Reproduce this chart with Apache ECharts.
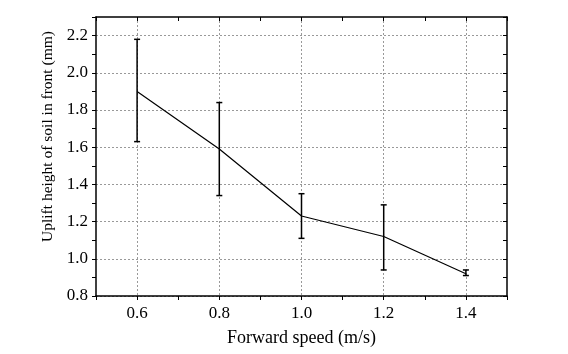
<!DOCTYPE html>
<html>
<head>
<meta charset="utf-8">
<script src="https://cdn.jsdelivr.net/npm/echarts@6/dist/echarts.min.js"></script>
<style>
  html, body { margin: 0; padding: 0; background: #fff; }
  #chart { width: 568px; height: 354px; }
</style>
</head>
<body>
<div id="chart"></div>
<script>
var speeds = [0.6, 0.8, 1.0, 1.2, 1.4];
var heights = [1.90, 1.59, 1.23, 1.12, 0.92];
var errLow = [1.63, 1.34, 1.11, 0.94, 0.91];
var errHigh = [2.18, 1.84, 1.35, 1.29, 0.94];

var myChart = echarts.init(document.getElementById('chart'));

var font = 'Liberation Serif';
var gridColor = '#999';

function evenLabel(v) {
  return Math.round(v * 10) % 2 === 0 ? v.toFixed(1) : '';
}

var lineData = speeds.map(function (s, i) { return [s, heights[i]]; });
var errData = speeds.map(function (s, i) { return [s, errLow[i], errHigh[i]]; });

var option = {
  animation: false,
  grid: {
    left: 96,
    top: 17,
    right: 61,
    bottom: 58
  },
  xAxis: [
    {
      type: 'value',
      min: 0.5,
      max: 1.5,
      interval: 0.1,
      name: 'Forward speed (m/s)',
      nameLocation: 'middle',
      nameGap: 33,
      nameTextStyle: { fontFamily: font, fontSize: 18, color: '#000' },
      axisLine: { lineStyle: { color: '#000', width: 1.5 } },
      axisTick: { length: 4, lineStyle: { color: '#000' } },
      axisLabel: { fontFamily: font, fontSize: 17, color: '#000', margin: 9, formatter: evenLabel },
      splitLine: {
        show: true,
        lineStyle: { color: ['rgba(0,0,0,0)', gridColor], type: [2, 2], width: 1 }
      }
    },
    {
      type: 'value',
      position: 'top',
      min: 0.5,
      max: 1.5,
      interval: 0.1,
      axisLine: { show: true, lineStyle: { color: '#000', width: 1.5 } },
      axisTick: { show: true, inside: true, length: 4, lineStyle: { color: '#000' } },
      axisLabel: { show: false },
      splitLine: { show: false }
    }
  ],
  yAxis: [
    {
      type: 'value',
      min: 0.8,
      max: 2.3,
      interval: 0.1,
      name: 'Uplift height of soil in front (mm)',
      nameLocation: 'middle',
      nameGap: 34,
      nameTextStyle: { fontFamily: font, fontSize: 15.5, color: '#000', padding: [0, 0, 0, 40] },
      axisLine: { show: true, lineStyle: { color: '#000', width: 1.5 } },
      axisTick: { show: true, length: 4, lineStyle: { color: '#000' } },
      axisLabel: { fontFamily: font, fontSize: 17, color: '#000', margin: 8, formatter: evenLabel },
      splitLine: {
        show: true,
        lineStyle: { color: [gridColor, 'rgba(0,0,0,0)'], type: [2, 2], width: 1 }
      }
    },
    {
      type: 'value',
      position: 'right',
      min: 0.8,
      max: 2.3,
      interval: 0.1,
      axisLine: { show: true, lineStyle: { color: '#000', width: 1.5 } },
      axisTick: { show: true, inside: true, length: 4, lineStyle: { color: '#000' } },
      axisLabel: { show: false },
      splitLine: { show: false }
    }
  ],
  series: [
    {
      type: 'line',
      data: lineData,
      symbol: 'none',
      lineStyle: { color: '#000', width: 1.2 },
      z: 3
    },
    {
      type: 'custom',
      data: errData,
      z: 4,
      renderItem: function (params, api) {
        var x = api.value(0);
        var lo = api.coord([x, api.value(1)]);
        var hi = api.coord([x, api.value(2)]);
        var w = 3;
        var style = { stroke: '#000', lineWidth: 1.5 };
        return {
          type: 'group',
          children: [
            { type: 'line', shape: { x1: lo[0], y1: lo[1], x2: hi[0], y2: hi[1] }, style: style },
            { type: 'line', shape: { x1: lo[0] - w, y1: lo[1], x2: lo[0] + w, y2: lo[1] }, style: style },
            { type: 'line', shape: { x1: hi[0] - w, y1: hi[1], x2: hi[0] + w, y2: hi[1] }, style: style }
          ]
        };
      }
    }
  ]
};

myChart.setOption(option);
</script>
</body>
</html>
